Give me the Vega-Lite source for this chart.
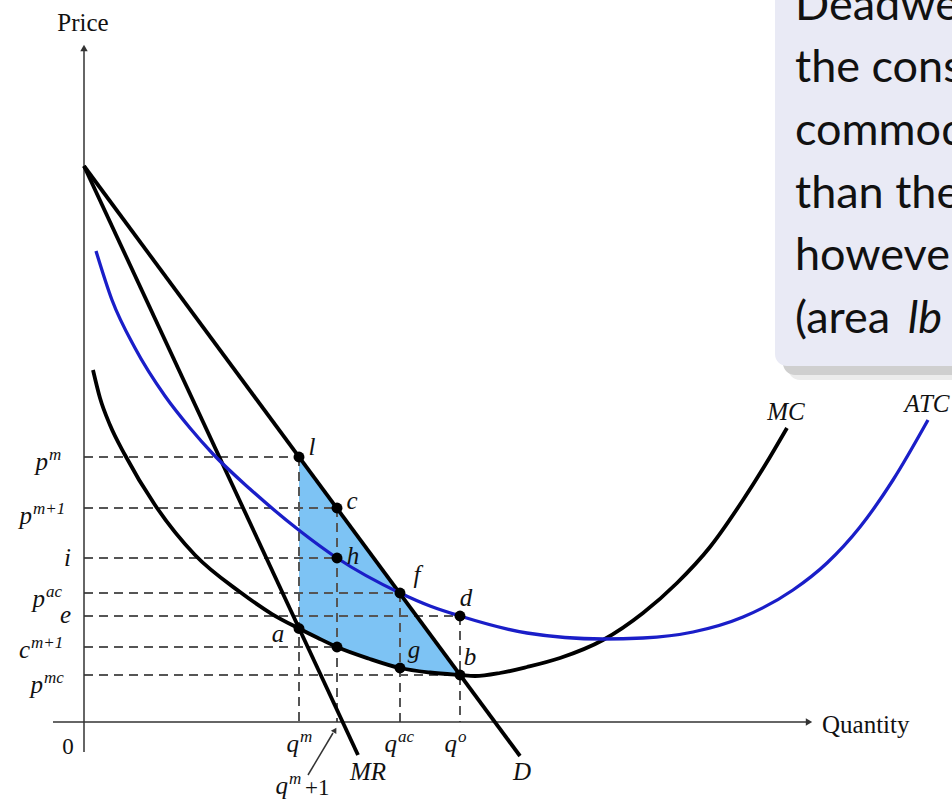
{
  "$schema": "https://vega.github.io/schema/vega-lite/v6.json",
  "width": 952,
  "height": 801,
  "autosize": {"type": "none"},
  "padding": 0,
  "background": "white",
  "config": {"view": {"stroke": null}},
  "datasets": {
    "callout": [
      {"part": "halo", "q": 70.4, "q2": 90, "p": 34.2, "p2": 80},
      {"part": "shadow", "q": 69.9, "q2": 90, "p": 34.7, "p2": 80},
      {"part": "panel", "q": 69.1, "q2": 90, "p": 35.6, "p2": 80}
    ],
    "note": [
      {"text": "Deadwe", "q": 71.1, "p": 70.2, "italic": false},
      {"text": "the cons", "q": 71.1, "p": 64.0, "italic": false},
      {"text": "commod", "q": 71.1, "p": 57.7, "italic": false},
      {"text": "than the", "q": 71.1, "p": 51.4, "italic": false},
      {"text": "however", "q": 71.1, "p": 45.2, "italic": false},
      {"text": "(area", "q": 71.1, "p": 38.9, "italic": false},
      {"text": "lb", "q": 82.4, "p": 38.9, "italic": true}
    ],
    "dwl": [
      {"q": 21.5, "p": 26.5, "p2": 9.35},
      {"q": 23.4, "p": 23.9, "p2": 8.4},
      {"q": 25.3, "p": 21.35, "p2": 7.5},
      {"q": 28.45, "p": 17.09, "p2": 6.35},
      {"q": 31.6, "p": 12.82, "p2": 5.4},
      {"q": 34.6, "p": 8.76, "p2": 4.95},
      {"q": 37.6, "p": 4.7, "p2": 4.7}
    ],
    "guides": [
      {"q": 0, "q2": 21.5, "p": 26.5, "p2": 26.5},
      {"q": 0, "q2": 25.3, "p": 21.4, "p2": 21.4},
      {"q": 0, "q2": 25.3, "p": 16.4, "p2": 16.4},
      {"q": 0, "q2": 31.6, "p": 12.9, "p2": 12.9},
      {"q": 0, "q2": 37.6, "p": 10.6, "p2": 10.6},
      {"q": 0, "q2": 25.3, "p": 7.5, "p2": 7.5},
      {"q": 0, "q2": 37.6, "p": 4.7, "p2": 4.7},
      {"q": 21.5, "q2": 21.5, "p": 26.5, "p2": 0},
      {"q": 25.3, "q2": 25.3, "p": 21.4, "p2": 0},
      {"q": 31.6, "q2": 31.6, "p": 12.9, "p2": 0},
      {"q": 37.6, "q2": 37.6, "p": 10.6, "p2": 0}
    ],
    "axes": [
      {"name": "price", "q": 0, "q2": 0, "p": -3.0, "p2": 67.2},
      {"name": "quantity", "q": -3.1, "q2": 72.3, "p": 0, "p2": 0},
      {"name": "pointer", "q": 22.4, "q2": 24.9, "p": -5.3, "p2": -1.1}
    ],
    "heads": [
      {"name": "price", "q": 0, "p": 67.4},
      {"name": "quantity", "q": 72.5, "p": 0},
      {"name": "pointer", "q": 25.1, "p": -0.8}
    ],
    "curves": [
      {"curve": "D", "q": 0, "p": 55.6},
      {"curve": "D", "q": 43.6, "p": -3.4},
      {"curve": "MR", "q": 0, "p": 55.6},
      {"curve": "MR", "q": 27.4, "p": -3.3},
      {"curve": "MC", "q": 0.9, "p": 35.2},
      {"curve": "MC", "q": 1.6, "p": 32.4},
      {"curve": "MC", "q": 2.6, "p": 29.7},
      {"curve": "MC", "q": 4.1, "p": 26.7},
      {"curve": "MC", "q": 7.1, "p": 21.7},
      {"curve": "MC", "q": 11.1, "p": 16.7},
      {"curve": "MC", "q": 15.6, "p": 13.0},
      {"curve": "MC", "q": 18.8, "p": 10.8},
      {"curve": "MC", "q": 21.5, "p": 9.35},
      {"curve": "MC", "q": 23.4, "p": 8.4},
      {"curve": "MC", "q": 25.3, "p": 7.5},
      {"curve": "MC", "q": 28.45, "p": 6.35},
      {"curve": "MC", "q": 31.6, "p": 5.4},
      {"curve": "MC", "q": 34.6, "p": 4.95},
      {"curve": "MC", "q": 37.6, "p": 4.7},
      {"curve": "MC", "q": 39.1, "p": 4.6},
      {"curve": "MC", "q": 41.6, "p": 4.9},
      {"curve": "MC", "q": 44.3, "p": 5.5},
      {"curve": "MC", "q": 47.6, "p": 6.4},
      {"curve": "MC", "q": 51.9, "p": 8.2},
      {"curve": "MC", "q": 55.9, "p": 10.9},
      {"curve": "MC", "q": 59.3, "p": 13.9},
      {"curve": "MC", "q": 62.6, "p": 17.5},
      {"curve": "MC", "q": 65.9, "p": 22.2},
      {"curve": "MC", "q": 68.6, "p": 26.5},
      {"curve": "MC", "q": 70.3, "p": 29.4},
      {"curve": "ATC", "q": 1.2, "p": 47.1},
      {"curve": "ATC", "q": 2.8, "p": 42.2},
      {"curve": "ATC", "q": 5.1, "p": 37.4},
      {"curve": "ATC", "q": 8.1, "p": 32.6},
      {"curve": "ATC", "q": 10.6, "p": 29.4},
      {"curve": "ATC", "q": 12.9, "p": 26.8},
      {"curve": "ATC", "q": 16.6, "p": 23.3},
      {"curve": "ATC", "q": 21.6, "p": 19.1},
      {"curve": "ATC", "q": 25.3, "p": 16.4},
      {"curve": "ATC", "q": 31.6, "p": 12.9},
      {"curve": "ATC", "q": 34.6, "p": 11.6},
      {"curve": "ATC", "q": 37.6, "p": 10.6},
      {"curve": "ATC", "q": 44.3, "p": 8.9},
      {"curve": "ATC", "q": 51.9, "p": 8.3},
      {"curve": "ATC", "q": 55.9, "p": 8.4},
      {"curve": "ATC", "q": 60.9, "p": 9.0},
      {"curve": "ATC", "q": 65.9, "p": 10.5},
      {"curve": "ATC", "q": 70.9, "p": 13.2},
      {"curve": "ATC", "q": 74.3, "p": 15.9},
      {"curve": "ATC", "q": 77.6, "p": 19.5},
      {"curve": "ATC", "q": 80.9, "p": 24.2},
      {"curve": "ATC", "q": 84.4, "p": 30.2}
    ],
    "points": [
      {"name": "l", "q": 21.5, "p": 26.5},
      {"name": "c", "q": 25.3, "p": 21.4},
      {"name": "h", "q": 25.3, "p": 16.4},
      {"name": "f", "q": 31.6, "p": 12.9},
      {"name": "d", "q": 37.6, "p": 10.6},
      {"name": "a", "q": 21.5, "p": 9.35},
      {"name": "", "q": 25.3, "p": 7.5},
      {"name": "g", "q": 31.6, "p": 5.4},
      {"name": "b", "q": 37.6, "p": 4.7}
    ],
    "pointLabels": [
      {"text": "l", "q": 22.8, "p": 27.5},
      {"text": "c", "q": 26.8, "p": 22.1},
      {"text": "h", "q": 26.9, "p": 16.6},
      {"text": "f", "q": 33.3, "p": 14.7},
      {"text": "d", "q": 38.2, "p": 12.4},
      {"text": "a", "q": 19.4, "p": 8.8},
      {"text": "g", "q": 33.0, "p": 7.2},
      {"text": "b", "q": 38.6, "p": 6.5},
      {"text": "MC", "q": 70.2, "p": 31.0},
      {"text": "ATC", "q": 84.3, "p": 31.8},
      {"text": "MR", "q": 28.4, "p": -5.0},
      {"text": "D", "q": 43.8, "p": -5.0}
    ],
    "ticks": [
      {"base": "p", "sup": "m", "q": -3.6, "p": 25.2},
      {"base": "p", "sup": "m+1", "q": -5.2, "p": 19.8},
      {"base": "i", "sup": "", "q": -1.3, "p": 15.6},
      {"base": "p", "sup": "ac", "q": -3.9, "p": 11.5},
      {"base": "e", "sup": "", "q": -1.3, "p": 9.9},
      {"base": "c", "sup": "m+1", "q": -5.4, "p": 6.4},
      {"base": "p", "sup": "mc", "q": -4.1, "p": 2.9},
      {"base": "q", "sup": "m", "q": 21.5, "p": -3.0},
      {"base": "q", "sup": "ac", "q": 31.3, "p": -3.0},
      {"base": "q", "sup": "o", "q": 37.3, "p": -3.0},
      {"base": "q", "sup": "m", "q": 20.4, "p": -7.2}
    ],
    "plain": [
      {"text": "+1", "q": 22.1, "p": -7.3, "anchor": "left"},
      {"text": "0", "q": -1.6, "p": -3.2, "anchor": "center"}
    ],
    "titles": [
      {"text": "Price", "q": -0.1, "p": 69.1, "anchor": "center"},
      {"text": "Quantity", "q": 73.8, "p": -1.1, "anchor": "left"}
    ]
  },
  "encoding": {
    "x": {"field": "q", "type": "quantitative", "scale": {"domain": [-8.4, 86.8], "nice": false, "zero": false}, "axis": null},
    "y": {"field": "p", "type": "quantitative", "scale": {"domain": [-7.9, 72.2], "nice": false, "zero": false}, "axis": null}
  },
  "layer": [
    {
      "data": {"name": "callout"},
      "mark": {"type": "rect", "cornerRadius": 12},
      "encoding": {
        "x2": {"field": "q2"},
        "y2": {"field": "p2"},
        "color": {"field": "part", "type": "nominal", "scale": {"domain": ["halo", "shadow", "panel"], "range": ["#ececec", "#cfcfcf", "#e9eaf5"]}, "legend": null}
      }
    },
    {
      "data": {"name": "note"},
      "transform": [{"filter": "!datum.italic"}],
      "mark": {"type": "text", "align": "left", "baseline": "alphabetic", "font": "Lato", "fontSize": 45, "color": "#111111"},
      "encoding": {"text": {"field": "text"}}
    },
    {
      "data": {"name": "note"},
      "transform": [{"filter": "datum.italic"}],
      "mark": {"type": "text", "align": "left", "baseline": "alphabetic", "font": "Lato", "fontStyle": "italic", "fontSize": 45, "color": "#111111"},
      "encoding": {"text": {"field": "text"}}
    },
    {
      "data": {"name": "dwl"},
      "mark": {"type": "area", "interpolate": "monotone", "color": "#7dc3f4", "opacity": 1},
      "encoding": {"y2": {"field": "p2"}}
    },
    {
      "data": {"name": "guides"},
      "mark": {"type": "rule", "color": "#555555", "strokeWidth": 2, "strokeDash": [9, 6]},
      "encoding": {"x2": {"field": "q2"}, "y2": {"field": "p2"}}
    },
    {
      "data": {"name": "axes"},
      "mark": {"type": "rule", "color": "#333333", "strokeWidth": 1.5},
      "encoding": {"x2": {"field": "q2"}, "y2": {"field": "p2"}}
    },
    {
      "data": {"name": "heads"},
      "transform": [{"filter": "datum.name == 'price'"}],
      "mark": {"type": "point", "shape": "triangle-up", "filled": true, "size": 55, "color": "#333333", "opacity": 1},
      "encoding": {}
    },
    {
      "data": {"name": "heads"},
      "transform": [{"filter": "datum.name == 'quantity'"}],
      "mark": {"type": "point", "shape": "triangle-right", "filled": true, "size": 55, "color": "#333333", "opacity": 1},
      "encoding": {}
    },
    {
      "data": {"name": "heads"},
      "transform": [{"filter": "datum.name == 'pointer'"}],
      "mark": {"type": "point", "shape": "triangle-up", "angle": 31, "filled": true, "size": 40, "color": "#333333", "opacity": 1},
      "encoding": {}
    },
    {
      "data": {"name": "curves"},
      "transform": [{"filter": "datum.curve != 'ATC'"}],
      "mark": {"type": "line", "interpolate": "monotone", "color": "#000000", "strokeWidth": 3.8},
      "encoding": {"detail": {"field": "curve"}}
    },
    {
      "data": {"name": "curves"},
      "transform": [{"filter": "datum.curve == 'ATC'"}],
      "mark": {"type": "line", "interpolate": "monotone", "color": "#1a1ec8", "strokeWidth": 3.3},
      "encoding": {}
    },
    {
      "data": {"name": "points"},
      "mark": {"type": "circle", "size": 120, "color": "#000000", "opacity": 1},
      "encoding": {}
    },
    {
      "data": {"name": "pointLabels"},
      "mark": {"type": "text", "align": "center", "baseline": "middle", "font": "Liberation Serif", "fontStyle": "italic", "fontSize": 25, "color": "#111111"},
      "encoding": {"text": {"field": "text"}}
    },
    {
      "data": {"name": "ticks"},
      "mark": {"type": "text", "align": "right", "baseline": "alphabetic", "font": "Liberation Serif", "fontStyle": "italic", "fontSize": 25, "color": "#111111"},
      "encoding": {"text": {"field": "base"}}
    },
    {
      "data": {"name": "ticks"},
      "mark": {"type": "text", "align": "left", "baseline": "alphabetic", "dx": 1, "dy": -10, "font": "Liberation Serif", "fontStyle": "italic", "fontSize": 17, "color": "#111111"},
      "encoding": {"text": {"field": "sup"}}
    },
    {
      "data": {"name": "plain"},
      "transform": [{"filter": "datum.anchor == 'left'"}],
      "mark": {"type": "text", "align": "left", "baseline": "alphabetic", "font": "Liberation Serif", "fontSize": 23, "color": "#111111"},
      "encoding": {"text": {"field": "text"}}
    },
    {
      "data": {"name": "plain"},
      "transform": [{"filter": "datum.anchor == 'center'"}],
      "mark": {"type": "text", "align": "center", "baseline": "alphabetic", "font": "Liberation Serif", "fontSize": 23, "color": "#111111"},
      "encoding": {"text": {"field": "text"}}
    },
    {
      "data": {"name": "titles"},
      "transform": [{"filter": "datum.anchor == 'center'"}],
      "mark": {"type": "text", "align": "center", "baseline": "alphabetic", "font": "Liberation Serif", "fontSize": 25, "color": "#111111"},
      "encoding": {"text": {"field": "text"}}
    },
    {
      "data": {"name": "titles"},
      "transform": [{"filter": "datum.anchor == 'left'"}],
      "mark": {"type": "text", "align": "left", "baseline": "alphabetic", "font": "Liberation Serif", "fontSize": 25, "color": "#111111"},
      "encoding": {"text": {"field": "text"}}
    }
  ]
}
